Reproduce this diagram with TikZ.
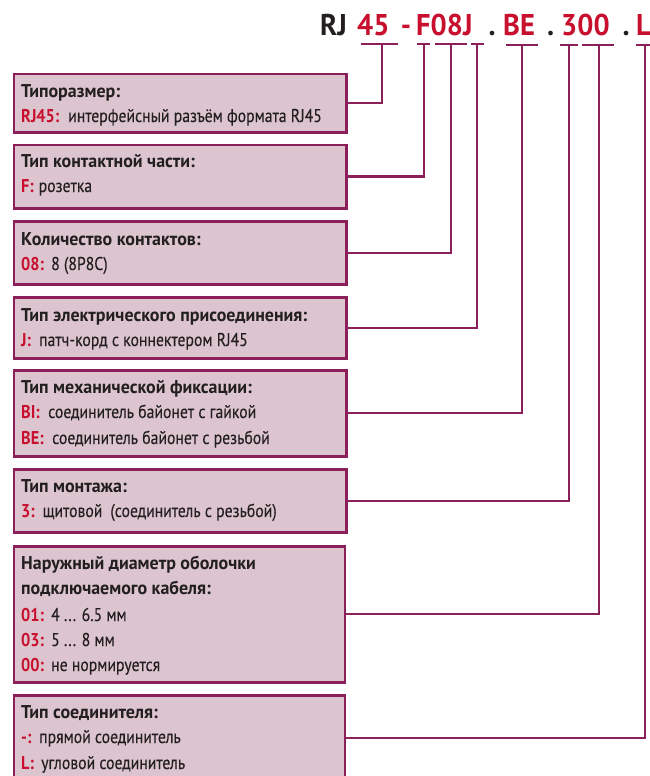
\documentclass[tikz,border=0pt]{standalone}
\usepackage{fontspec}
\setmainfont{PT Sans}
\newfontfamily\bodyf{PT Sans}[FakeStretch=0.85,FakeBold=0.15]
\newfontfamily\boldf{PT Sans}[FakeStretch=0.97]
\newfontfamily\labf{PT Sans}[FakeStretch=0.88]
\newfontfamily\codef{PT Sans}[FakeStretch=0.95]
\definecolor{codered}{HTML}{C8102E}
\definecolor{frame}{HTML}{8B1F5A}
\definecolor{boxfill}{HTML}{DCC5CF}
\definecolor{txt}{HTML}{231F20}
\newcommand\lbl[2]{\makebox[#1][l]{\labf\bfseries\color{codered}#2}}
\tikzset{
  box/.style={draw=frame, fill=boxfill, line width=2.6pt, anchor=north west, inner sep=0pt},
  conn/.style={draw=frame, line width=2.3pt},
  tx/.style={anchor=base west, inner sep=0pt, text=txt, font=\fontsize{18.5}{22}\bodyf},
  hd/.style={anchor=base west, inner sep=0pt, text=txt, font=\fontsize{18.5}{22}\boldf\bfseries},
  code/.style={anchor=base west, inner sep=0pt, font=\fontsize{30}{34}\codef\bfseries},
  codec/.style={code, anchor=base},
}
\begin{document}
\begin{tikzpicture}[x=1pt,y=-1pt]
\clip (0,0) rectangle (650,776);
\fill[white] (0,0) rectangle (650,776);
% code
\node[code, text=txt] (cRJ) at (320,36) {RJ};
\node[code, text=codered] (c45) at (357,36) {45};
\node[codec, text=codered] (cdash) at (406,36) {-};
\node[code, text=codered] (cF) at (416,36) {F08J};
\node[codec, text=txt] (cd1) at (492,36) {.};
\node[code, text=codered] (cBE) at (503,36) {BE};
\node[codec, text=txt] (cd2) at (550.5,36) {.};
\node[code, text=codered] (c300) at (561,36) {300};
\node[codec, text=txt] (cd3) at (626,36) {.};
\node[code, text=codered] (cL) at (636,36) {L};
% boxes
\node[box, minimum width=332.5pt, minimum height=58.5pt] (b1) at (12.5,72.5) {};
\node[box, minimum width=332.5pt, minimum height=63.5pt] (b2) at (12.5,143.5) {};
\node[box, minimum width=332.5pt, minimum height=63pt] (b3) at (12.5,220) {};
\node[box, minimum width=332.5pt, minimum height=61pt] (b4) at (12.5,296) {};
\node[box, minimum width=332.5pt, minimum height=86pt] (b5) at (12.5,369) {};
\node[box, minimum width=332.5pt, minimum height=63pt] (b6) at (12.5,468) {};
\node[box, minimum width=331pt, minimum height=136pt] (b7) at (12.5,545) {};
\node[box, minimum width=331pt, minimum height=86pt] (b8) at (12.5,694) {};
% texts
\node[hd] (h1) at (21,97) {Типоразмер:};
\node[tx] (l1) at (21,122) {\lbl{47pt}{RJ45:}интерфейсный разъём формата RJ45};
\node[hd] (h2) at (21,167) {Тип контактной части:};
\node[tx] (l2) at (21,192) {\lbl{17.5pt}{F:}розетка};
\node[hd] (h3) at (21,245) {Количество контактов:};
\node[tx] (l3) at (21,270) {\lbl{30pt}{08:}8 (8P8C)};
\node[hd] (h4) at (21,321) {Тип электрического присоединения:};
\node[tx] (l4) at (21,346) {\lbl{18pt}{J:}патч-корд с коннектером RJ45};
\node[hd] (h5) at (21,393) {Тип механической фиксации:};
\node[tx] (l5a) at (21,418) {\lbl{27pt}{BI:}соединитель байонет с гайкой};
\node[tx] (l5b) at (21,444) {\lbl{31pt}{BE:}соединитель байонет с резьбой};
\node[hd] (h6) at (21,492) {Тип монтажа:};
\node[tx] (l6) at (21,517) {\lbl{21.5pt}{3:}щитовой\hspace{8pt}(соединитель с резьбой)};
\node[hd] (h7a) at (21,569) {Наружный диаметр оболочки};
\node[hd] (h7b) at (21,594) {подключаемого кабеля:};
\node[tx] (l7a) at (21,621) {\lbl{30pt}{01:}4 ... 6.5 мм};
\node[tx] (l7b) at (21,646) {\lbl{30pt}{03:}5 ... 8 мм};
\node[tx] (l7c) at (21,671) {\lbl{30pt}{00:}не нормируется};
\node[hd] (h8) at (21,718) {Тип соединителя:};
\node[tx] (l8a) at (21,743) {\lbl{18pt}{-:}прямой соединитель};
\node[tx] (l8b) at (21,769) {\lbl{20pt}{L:}угловой соединитель};
% underline bars and their tips
\coordinate (u1a) at (361,44); \coordinate (u1b) at (398,44); \coordinate (t1) at (381.7,44);
\coordinate (u2a) at (417,44); \coordinate (u2b) at (430,44); \coordinate (t2) at (424,44);
\coordinate (u3a) at (435,44); \coordinate (u3b) at (467,44); \coordinate (t3) at (451,44);
\coordinate (u4a) at (471,44); \coordinate (u4b) at (484,44); \coordinate (t4) at (477,44);
\coordinate (u5a) at (506,45); \coordinate (u5b) at (538,45); \coordinate (t5) at (522,45);
\coordinate (u6a) at (560,45); \coordinate (u6b) at (578,45); \coordinate (t6) at (569,45);
\coordinate (u7a) at (582,45); \coordinate (u7b) at (614,45); \coordinate (t7) at (599,45);
\coordinate (u8a) at (636,45); \coordinate (u8b) at (656,45); \coordinate (t8) at (645,45);
\foreach \i in {1,...,8} {\draw[conn] (u\i a) -- (u\i b);}
\draw[conn] (b1.east) -| (t1);
\draw[conn] (b2.east) -| (t2);
\draw[conn] (b3.east) -| (t3);
\draw[conn] (b4.east) -| (t4);
\draw[conn] (b5.east) -| (t5);
\draw[conn] (b6.east) -| (t6);
\draw[conn] (b7.east) -| (t7);
\draw[conn] (b8.east) -| (t8);
\end{tikzpicture}
\end{document}
